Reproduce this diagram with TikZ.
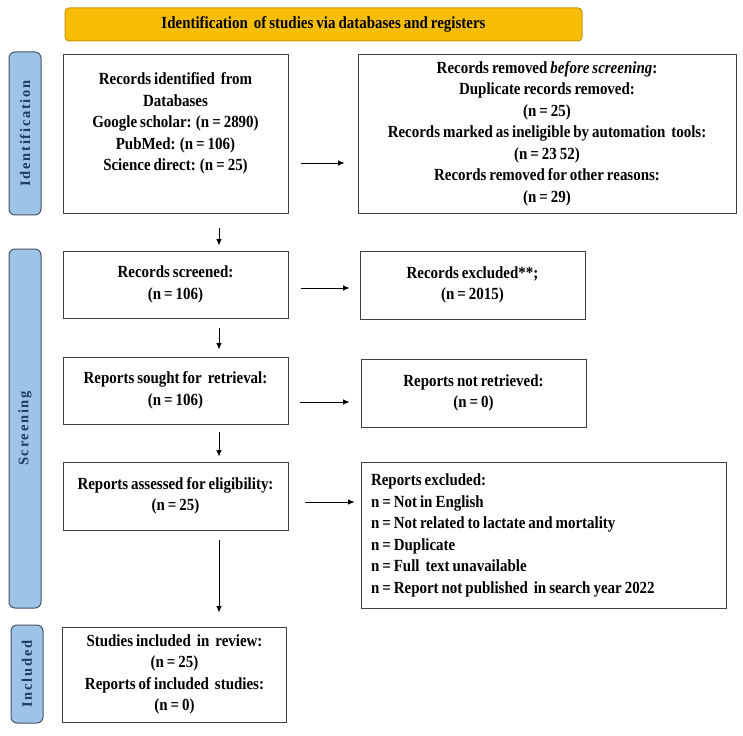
\documentclass[tikz,border=0pt]{standalone}
\usepackage{fontspec}
\setmainfont{Liberation Serif}[FakeStretch=0.88,WordSpace=0.8]
\newfontfamily\sidefont[LetterSpace=12]{Liberation Serif}
\usetikzlibrary{arrows.meta}
\definecolor{hdrfill}{HTML}{F8BD05}
\definecolor{hdrdraw}{HTML}{C8960A}
\definecolor{sidefill}{HTML}{9DC3E6}
\definecolor{sidedraw}{HTML}{44546A}
\definecolor{sidetext}{HTML}{1F3864}
\tikzset{
  box/.style={draw=black!75, line width=0.9pt, fill=white, inner sep=0pt, align=center,
    font=\fontsize{17}{21.5}\selectfont\bfseries},
  sidelab/.style={draw=sidedraw, line width=1pt, fill=sidefill, rounded corners=6pt,
    minimum height=32pt, inner sep=0pt, rotate=90,
    font=\fontsize{14.5}{16}\sidefont\bfseries, text=sidetext},
  hdr/.style={draw=hdrdraw, line width=1pt, fill=hdrfill, rounded corners=4pt,
    minimum width=517pt, minimum height=33pt, inner sep=0pt,
    font=\fontsize{17}{20}\selectfont\bfseries},
  arr/.style={draw=black, line width=0.8pt, -{Latex[length=6.5pt,width=5.5pt]}}
}
\begin{document}
\begin{tikzpicture}[x=1pt,y=-1pt]
\useasboundingbox[fill=white] (0,0) rectangle (743,735);
\node[hdr] (hdr) at (323.5,24.5) {Identification\ \ of studies via databases and registers};
\node[sidelab, minimum width=163pt] (lid) at (25,133.5) {Identification};
\node[sidelab, minimum width=359pt] (lsc) at (25,428.5) {Screening};
\node[sidelab, minimum width=98pt] (lin) at (27,674) {Included};

\node[box, minimum width=225pt, minimum height=159pt] (b1) at (175.5,133.5)
  {\raisebox{10pt}[\height][\depth]{\begin{tabular}{@{}c@{}}Records identified\ \ from\\ Databases\\ Google scholar: (n = 2890)\\ PubMed: (n = 106)\\ Science direct: (n = 25)\end{tabular}}};
\node[box, minimum width=378pt, minimum height=159pt] (b2) at (547,133.5)
  {Records removed \textit{before screening}:\\ Duplicate records removed:\\ (n = 25)\\ Records marked as ineligible by automation\ \ tools:\\ (n = 23 52)\\ Records removed for other reasons:\\ (n = 29)};
\node[box, minimum width=225pt, minimum height=67pt] (b3) at (175.5,284.5)
  {Records screened:\\ (n = 106)};
\node[box, minimum width=225pt, minimum height=68pt] (b4) at (472.5,285)
  {Records excluded**;\\ (n = 2015)};
\node[box, minimum width=225pt, minimum height=67pt] (b5) at (175.5,390.5)
  {Reports sought for\ \ retrieval:\\ (n = 106)};
\node[box, minimum width=225pt, minimum height=68pt] (b6) at (473.5,393)
  {Reports not retrieved:\\ (n = 0)};
\node[box, minimum width=225pt, minimum height=68pt] (b7) at (175.5,496)
  {Reports assessed for eligibility:\\ (n = 25)};
\node[box, minimum height=146pt, text width=345pt, inner xsep=10pt, align=left] (b8) at (543.5,535)
  {\spaceskip=0pt\relax\xspaceskip=0pt\relax
   \begin{tabular}{@{}l@{}}Reports excluded:\\ n = Not in English\\ n = Not related to lactate and mortality\\ n = Duplicate\\ n = Full\ \ text unavailable\\ n = Report not published\ \ in search year 2022\end{tabular}};
\node[box, minimum width=224pt, minimum height=95pt] (b9) at (174.5,674.5)
  {Studies included\ \ in\ \ review:\\ (n = 25)\\ Reports of included\ \ studies:\\ (n = 0)};

\draw[arr] ([xshift=13pt,yshift=-29.5pt]b1.east) -- ([xshift=-13pt,yshift=-29.5pt]b2.west);
\draw[arr] ([xshift=43.5pt,yshift=-15pt]b1.south) -- ([xshift=43.5pt,yshift=5pt]b3.north);
\draw[arr] ([xshift=13pt,yshift=-3.5pt]b3.east) -- ([xshift=-10pt,yshift=-3pt]b4.west);
\draw[arr] ([xshift=43.5pt,yshift=-10pt]b3.south) -- ([xshift=43.5pt,yshift=7pt]b5.north);
\draw[arr] ([xshift=12pt,yshift=-11.5pt]b5.east) -- ([xshift=-11pt,yshift=-9pt]b6.west);
\draw[arr] ([xshift=43.5pt,yshift=-8pt]b5.south) -- ([xshift=43.5pt,yshift=5pt]b7.north);
\draw[arr] ([xshift=17pt,yshift=-6pt]b7.east) -- ([xshift=-6pt,yshift=33pt]b8.west);
\draw[arr] ([xshift=43.5pt,yshift=-10pt]b7.south) -- ([xshift=44.5pt,yshift=14pt]b9.north);
\end{tikzpicture}
\end{document}
